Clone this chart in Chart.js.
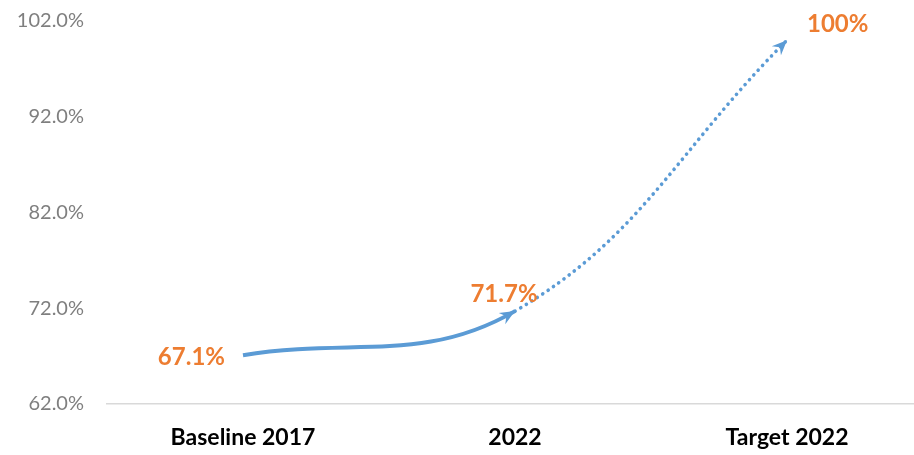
<!DOCTYPE html>
<html>
<head>
<meta charset="utf-8">
<script src="https://cdn.jsdelivr.net/npm/chart.js@4"></script>
<style>
  html, body { margin: 0; padding: 0; background: #fff; overflow: hidden; }
  .wrap { width: 923px; height: 455px; }
</style>
</head>
<body>
<div class="wrap"><canvas id="myChart"></canvas></div>
<script>
const categories = ["Baseline 2017", "2022", "Target 2022"];
const values = [67.1, 71.7, 100];
const valueLabels = ["67.1%", "71.7%", "100%"];
const yTicks = [62, 72, 82, 92, 102];

const lineColor = "#5B9BD5";
const labelColor = "#ED7D31";

// where each value label sits relative to its point
const labelPlace = [
  { dx: -18, dy: 2, align: "right" },
  { dx: -11, dy: -17, align: "center" },
  { dx: 20, dy: -16, align: "left" },
];

function drawArrow(ctx, fromX, fromY, toX, toY) {
  const a = Math.atan2(toY - fromY, toX - fromX);
  const len = 15, half = 6.5, notch = 10;
  ctx.save();
  ctx.translate(toX, toY);
  ctx.rotate(a);
  ctx.beginPath();
  ctx.moveTo(0, 0);
  ctx.lineTo(-len, -half);
  ctx.lineTo(-notch, 0);
  ctx.lineTo(-len, half);
  ctx.closePath();
  ctx.fillStyle = lineColor;
  ctx.fill();
  ctx.restore();
}

const extras = {
  id: "extras",
  afterDatasetsDraw(chart) {
    const ctx = chart.ctx;
    const pts = chart.getDatasetMeta(0).data;
    // arrow heads at the end of every segment
    for (let i = 1; i < pts.length; i++) {
      const p = pts[i];
      const cx = p.cp1x !== undefined ? p.cp1x : pts[i - 1].x;
      const cy = p.cp1y !== undefined ? p.cp1y : pts[i - 1].y;
      drawArrow(ctx, cx, cy, p.x, p.y);
    }
    ctx.save();
    ctx.font = "bold 24px Lato, 'Open Sans', sans-serif";
    ctx.fillStyle = labelColor;
    ctx.textBaseline = "middle";
    pts.forEach((p, i) => {
      const pl = labelPlace[i];
      ctx.textAlign = pl.align;
      ctx.fillText(valueLabels[i], p.x + pl.dx, p.y + pl.dy);
    });
    ctx.restore();
  },
};

document.addEventListener("DOMContentLoaded", function () {
  const ctx = document.getElementById("myChart").getContext("2d");
  const data = {
    labels: categories,
    datasets: [
      {
        data: values,
        borderColor: lineColor,
        backgroundColor: lineColor,
        borderWidth: 4,
        pointRadius: 0,
        fill: false,
        tension: 0.4,
        segment: {
          borderDash: (c) => (c.p0DataIndex === 1 ? [0.1, 6.4] : undefined),
          borderCapStyle: (c) => (c.p0DataIndex === 1 ? "round" : "butt"),
          borderWidth: (c) => (c.p0DataIndex === 1 ? 3.6 : 4),
        },
      },
    ],
  };

  const options = {
    responsive: true,
    maintainAspectRatio: false,
    animation: false,
    layout: { padding: { top: 21, right: 0, left: 0, bottom: 0 } },
    scales: {
      x: {
        offset: true,
        grid: { display: false },
        border: { display: true, color: "#d9d9d9", width: 1.5 },
        ticks: {
          color: "#000",
          font: { family: "Lato, 'Open Sans', sans-serif", size: 23, weight: "bold" },
          padding: 12,
        },
        afterFit(scale) { scale.height = 51; },
      },
      y: {
        min: 62,
        max: 102,
        grid: { display: false },
        border: { display: false },
        afterBuildTicks(scale) { scale.ticks = yTicks.map((v) => ({ value: v })); },
        ticks: {
          color: "#7f7f7f",
          font: { family: "Lato, 'Open Sans', sans-serif", size: 20 },
          padding: 15,
          callback: function (value) {
            return value.toFixed(1) + "%";
          },
        },
        afterFit(scale) {
          scale.width = 107;
          scale.paddingTop = 0;
          scale.paddingBottom = 0;
        },
      },
    },
    plugins: {
      legend: { display: false },
      tooltip: { enabled: false },
    },
  };

  const myChart = new Chart(ctx, {
    type: "line",
    data: data,
    options: options,
    plugins: [extras],
  });
});
</script>
</body>
</html>
